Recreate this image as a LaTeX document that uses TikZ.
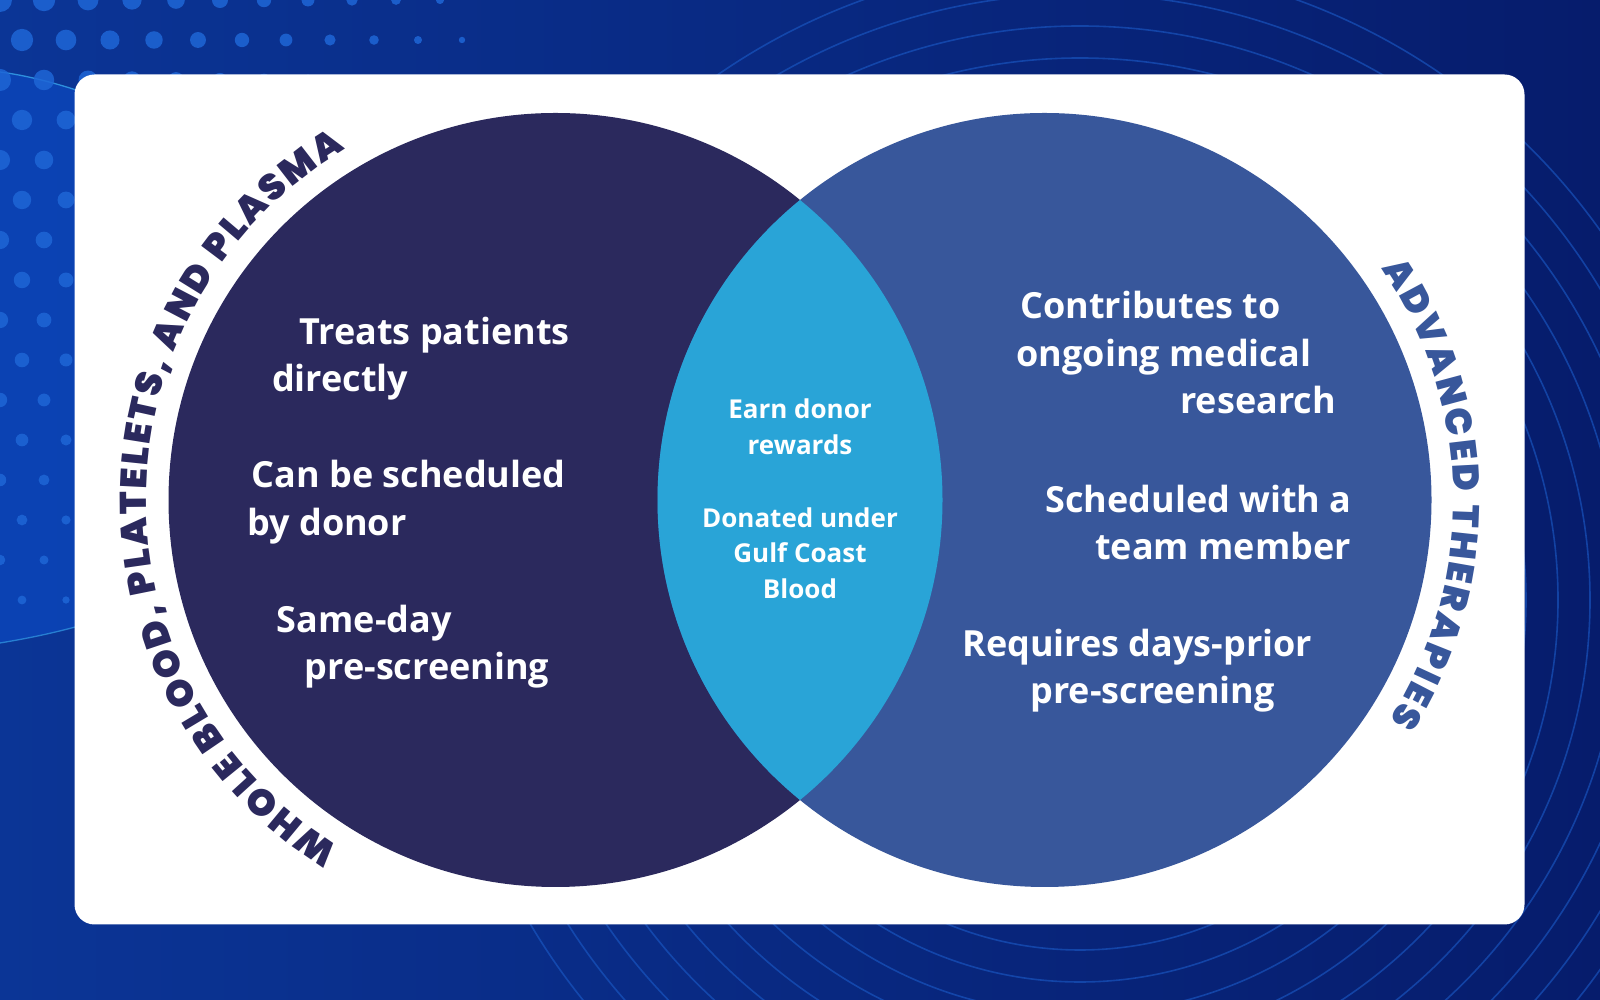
\documentclass[tikz,border=0pt]{standalone}
\usepackage{fontspec}
\newfontfamily\bodyfont{Open Sans}
\newfontfamily\headfont{Poppins Black}
\usetikzlibrary{decorations.text}
\definecolor{bgA}{HTML}{0B3596}
\definecolor{bgB}{HTML}{061C6C}
\definecolor{navy}{HTML}{2B295D}
\definecolor{royal}{HTML}{38579B}
\definecolor{sky}{HTML}{29A4D7}
\definecolor{dotc}{HTML}{1E66D6}
\definecolor{ringc}{HTML}{1B5BC8}
\definecolor{arcc}{HTML}{2E90DD}
\definecolor{glow}{HTML}{0C48C0}
\tikzset{
  body/.style={font=\bodyfont\bfseries\fontsize{36}{44}\selectfont, text=white, inner sep=0pt, anchor=base},
  lenstext/.style={font=\bodyfont\bfseries\fontsize{26}{32}\selectfont, text=white, inner sep=0pt, anchor=base},
  setcircle/.style={circle, inner sep=0pt, minimum size=774pt},
}
\begin{document}
\begin{tikzpicture}[x=1pt,y=1pt]
\useasboundingbox (0,0) rectangle (1600,1000);
% background
\shade[left color=bgA, right color=bgB] (0,0) rectangle (1600,1000);
\fill[glow, opacity=0.7] (0,928) .. controls (30,924) and (60,916) .. (100,902)
  -- (100,380) .. controls (60,368) and (30,362) .. (0,357) -- cycle;
\draw[arcc, line width=1.3pt] (0,928) .. controls (30,924) and (60,916) .. (100,902);
\draw[arcc, line width=1.3pt, opacity=0.8] (0,357) .. controls (30,362) and (60,368) .. (100,380);
\begin{scope}
  \clip (0,0) rectangle (1600,1000);
  \foreach \r in {350,382,...,640}{
    \draw[ringc, line width=1.6pt, opacity=0.6] (1080,400) circle (\r pt);
  }
\end{scope}
\foreach \i in {0,...,10}{
  \foreach \j in {0,...,15}{
    \pgfmathsetmacro\px{\i*44+mod(\j,2)*22}
    \pgfmathsetmacro\py{\j*40}
    \pgfmathsetmacro\rr{12-0.018*\px-0.012*\py}
    \ifdim\rr pt>1.5pt \fill[dotc, opacity=0.85] (\px,1000-\py) circle (\rr pt); \fi
  }
}
% white card
\fill[white, rounded corners=20pt] (74.5,75.5) rectangle (1524.5,925.5);
% circles
\node[setcircle, fill=navy] (leftset) at (555.5,500) {};
\node[setcircle, fill=royal] (rightset) at (1044.5,500) {};
\begin{scope}
  \clip (leftset.center) circle (387pt);
  \fill[sky] (rightset.center) circle (387pt);
\end{scope}
% curved headings
\path[decorate, decoration={text along path, text color=navy, text align=fit to path,
  text={|\headfont\fontsize{37}{37}\selectfont|WHOLE BLOOD, PLATELETS, AND PLASMA}}]
  (leftset.center) ++(238.2:409) arc[start angle=238.2, end angle=121, radius=409];
\path[decorate, decoration={text along path, text color=royal, text align=fit to path,
  text={|\headfont\fontsize{37}{37}\selectfont|ADVANCED THERAPIES}}]
  (rightset.center) ++(34.5:409) arc[start angle=34.5, end angle=-32.5, radius=409];
% left set texts
\node[body] (l1a) at (434.7,655) {Treats patients};
\node[body] (l1b) at (340.3,608) {directly};
\node[body] (l2a) at (408.7,512) {Can be scheduled};
\node[body] (l2b) at (327,464.5) {by donor};
\node[body] (l3a) at (364.3,367) {Same-day};
\node[body] (l3b) at (427,320) {pre-screening};
% right set texts
\node[body] (r1a) at (1150.5,681) {Contributes to};
\node[body] (r1b) at (1163.8,633.5) {ongoing medical};
\node[body] (r1c) at (1258,586) {research};
\node[body] (r2a) at (1198.5,487.5) {Scheduled with a};
\node[body] (r2b) at (1223,440) {team member};
\node[body] (r3a) at (1137.3,343.3) {Requires days-prior};
\node[body] (r3b) at (1152.6,296.7) {pre-screening};
% overlap texts
\node[lenstext] (c1a) at (800,581) {Earn donor};
\node[lenstext] (c1b) at (800,545) {rewards};
\node[lenstext] (c2a) at (800,472.5) {Donated under};
\node[lenstext] (c2b) at (800,437) {Gulf Coast};
\node[lenstext] (c2c) at (800,401) {Blood};
\end{tikzpicture}
\end{document}
